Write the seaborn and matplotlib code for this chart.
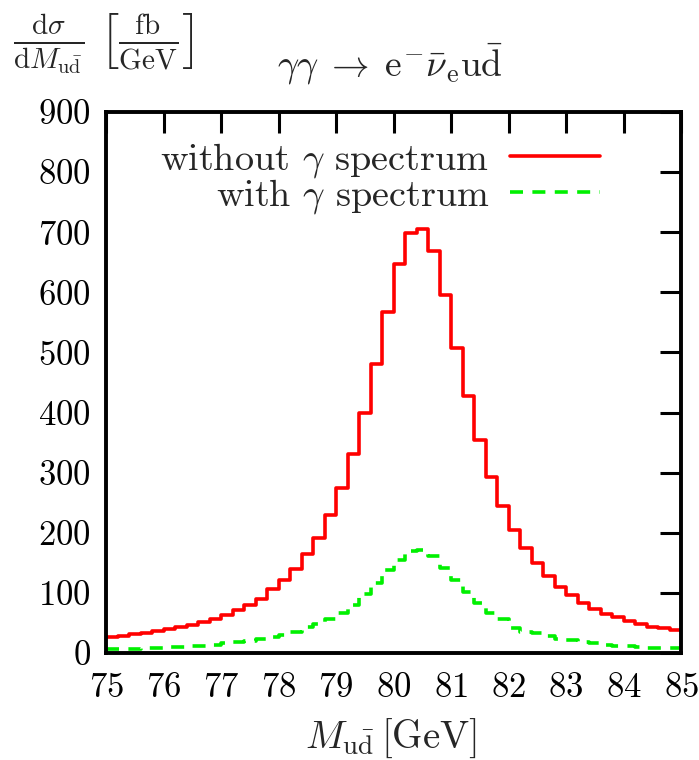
import numpy as np
import pandas as pd
import matplotlib
matplotlib.use("Agg")
import matplotlib.pyplot as plt
import seaborn as sns

# ---- data ----
bin_edges = [round(75.0 + 0.2 * i, 2) for i in range(51)]
without_spectrum = [26, 29, 31, 34, 37, 40, 43, 47, 52, 57,
                    63, 72, 80, 90, 106, 121, 139, 165, 192, 230,
                    274, 331, 400, 481, 568, 647, 698, 706, 668, 595,
                    508, 427, 355, 292, 244, 205, 174, 149, 128, 110,
                    96, 83, 73, 65, 60, 53, 48, 44, 41, 38]
with_spectrum = [6, 7, 7, 8, 8, 10, 10, 11, 12, 14,
                 16, 19, 20, 23, 26, 30, 35, 43, 48, 56,
                 66, 80, 98, 117, 138, 155, 169, 171, 162, 142,
                 122, 101, 83, 67, 56, 41, 35, 34, 28, 23,
                 21, 19, 16, 13, 12, 11, 10, 9, 8, 8]
x_ticks = [75, 76, 77, 78, 79, 80, 81, 82, 83, 84, 85]
y_ticks = [0, 100, 200, 300, 400, 500, 600, 700, 800, 900]
series_labels = [r"without $\gamma$ spectrum", r"with $\gamma$ spectrum"]

edges = np.array(bin_edges)
centers = (edges[:-1] + edges[1:]) / 2
df_without = pd.DataFrame({"M": centers, "w": without_spectrum})
df_with = pd.DataFrame({"M": centers, "w": with_spectrum})

sns.set_style("white")
plt.rcParams["font.family"] = ["cmr10", "DejaVu Serif"]
plt.rcParams["mathtext.fontset"] = "cm"
plt.rcParams["axes.formatter.use_mathtext"] = True

fig = plt.figure(figsize=(6.99, 7.60), dpi=100)
L, R, B, T = 106, 681, 653, 112
ax = fig.add_axes([L / 699, 1 - B / 760, (R - L) / 699, (B - T) / 760])

sns.histplot(data=df_without, x="M", weights="w", bins=bin_edges,
             element="step", fill=False, color="#ff0000", linewidth=2.6, ax=ax,
             label=series_labels[0])
sns.histplot(data=df_with, x="M", weights="w", bins=bin_edges,
             element="step", fill=False, color="#00f000", linewidth=2.6, ax=ax,
             linestyle=(0, (3.6, 2.6)), label=series_labels[1])

ax.set_xlim(75, 85)
ax.set_ylim(0, 900)
ax.set_xticks(x_ticks)
ax.set_yticks(y_ticks)
ax.set_xlabel("")
ax.set_ylabel("")
ax.tick_params(direction="in", length=15, width=2.2, top=True, right=True,
               labelsize=25, colors="black")
ax.tick_params(axis="x", pad=14)
ax.tick_params(axis="y", pad=11)
for s in ax.spines.values():
    s.set_linewidth(2.8)
    s.set_color("black")

leg = ax.legend(loc="upper right", bbox_to_anchor=(0.859, 0.946), markerfirst=False,
                frameon=False, fontsize=27.5, handlelength=2.35, handletextpad=0.55,
                labelspacing=-0.08, borderpad=0, borderaxespad=0)

fig.text(390 / 699, 1 - 64 / 760,
         r"$\gamma\gamma \;\rightarrow\; \mathrm{e}^{-}\bar{\nu}_{\mathrm{e}}\mathrm{u}\bar{\mathrm{d}}$",
         ha="center", va="center", fontsize=27)
fig.text(13 / 699, 1 - 44 / 760,
         r"$\frac{\mathrm{d}\sigma}{\mathrm{d}M_{\mathrm{u}\bar{\mathrm{d}}}}\ \left[\frac{\mathrm{fb}}{\mathrm{GeV}}\right]$",
         ha="left", va="center", fontsize=30)
fig.text(391 / 699, 1 - 738 / 760,
         r"$M_{\mathrm{u}\bar{\mathrm{d}}}\,[\mathrm{GeV}]$",
         ha="center", va="center", fontsize=28)

fig.savefig("out.png", dpi=100, facecolor="white")
